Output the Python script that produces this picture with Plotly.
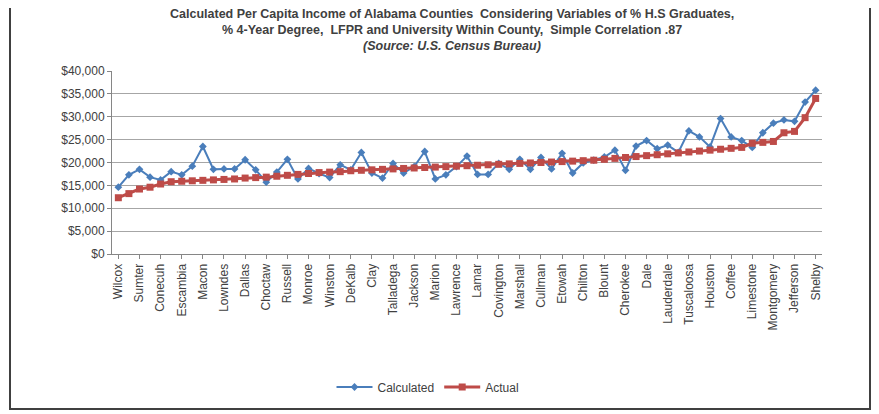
import plotly.graph_objects as go

counties = ["Wilcox", "Perry", "Sumter", "Greene", "Conecuh", "Bullock", "Escambia", "Hale",
            "Macon", "Barbour", "Lowndes", "Butler", "Dallas", "Marengo", "Choctaw", "Clarke",
            "Russell", "Crenshaw", "Monroe", "Pickens", "Winston", "Washington", "DeKalb",
            "Franklin", "Clay", "Geneva", "Talladega", "Bibb", "Jackson", "Randolph", "Marion",
            "Fayette", "Lawrence", "Chambers", "Lamar", "Cleburne", "Covington", "Pike",
            "Marshall", "Coosa", "Cullman", "Walker", "Etowah", "Henry", "Chilton", "Tallapoosa",
            "Blount", "Calhoun", "Cherokee", "Colbert", "Dale", "Lee", "Lauderdale", "Mobile",
            "Tuscaloosa", "Elmore", "Houston", "Morgan", "Coffee", "St. Clair", "Limestone",
            "Autauga", "Montgomery", "Baldwin", "Jefferson", "Madison", "Shelby"]

calculated = [14600, 17300, 18500, 16800, 16200, 18000, 17300, 19200, 23500, 18500,
              18600, 18600, 20600, 18400, 15700, 17900, 20700, 16400, 18700, 17600,
              16700, 19500, 18400, 22200, 17700, 16600, 19800, 17700, 19100, 22400,
              16400, 17300, 19100, 21400, 17400, 17400, 19800, 18500, 20700, 18500,
              21100, 18600, 22000, 17700, 19900, 20500, 21200, 22700, 18300, 23600,
              24800, 23000, 23800, 22200, 26900, 25600, 23400, 29600, 25600, 24800,
              23300, 26500, 28600, 29300, 29000, 33200, 35800]

actual = [12300, 13200, 14200, 14600, 15300, 15800, 15900, 16000, 16100, 16200,
          16300, 16400, 16600, 16700, 16800, 17000, 17200, 17400, 17600, 17800,
          17900, 18000, 18200, 18300, 18400, 18500, 18600, 18700, 18800, 18900,
          19000, 19100, 19200, 19300, 19400, 19500, 19600, 19700, 19800, 19900,
          20000, 20100, 20200, 20300, 20400, 20500, 20700, 20900, 21100, 21300,
          21500, 21700, 21900, 22100, 22300, 22500, 22700, 22900, 23100, 23300,
          24200, 24400, 24600, 26500, 26800, 29800, 34000]

y_ticks = [0, 5000, 10000, 15000, 20000, 25000, 30000, 35000, 40000]
y_tick_labels = ["$0", "$5,000", "$10,000", "$15,000", "$20,000", "$25,000",
                 "$30,000", "$35,000", "$40,000"]

title_lines = [
    "Calculated Per Capita Income of Alabama Counties  Considering Variables of % H.S Graduates,",
    "% 4-Year Degree,  LFPR and University Within County,  Simple Correlation .87",
    "<i>(Source: U.S. Census Bureau)</i>",
]

# page body has an 8px margin; work in screen pixels and convert
OFF = 8
W, H = 879 - OFF, 414 - OFF
# plot area in screen px
X0, X1, Y0, Y1 = 112, 822, 71, 254
L, R, T, B = X0 - OFF, W - (X1 - OFF), Y0 - OFF, H - (Y1 - OFF)
pw, ph = W - L - R, H - T - B


def px_x(x):
    return (x - OFF - L) / pw


def px_y(y):
    return (H - B - (y - OFF)) / ph


FONT = "Liberation Sans, Arial, sans-serif"
TXT = "#404040"

fig = go.Figure()
fig.add_trace(go.Scatter(
    x=counties, y=calculated, name="Calculated", mode="lines+markers",
    line=dict(color="#4A7EBB", width=2),
    marker=dict(symbol="diamond", size=6, color="#4A7EBB"),
))
fig.add_trace(go.Scatter(
    x=counties, y=actual, name="Actual", mode="lines+markers",
    line=dict(color="#BE4B48", width=3),
    marker=dict(symbol="square", size=7, color="#BE4B48"),
))

fig.update_layout(
    width=W, height=H, autosize=False,
    margin=dict(l=L, r=R, t=T, b=B),
    paper_bgcolor="white", plot_bgcolor="white",
    font=dict(family=FONT, size=12, color=TXT),
    showlegend=True,
    legend=dict(orientation="h", x=px_x(428), xanchor="center", y=px_y(387), yanchor="middle",
                font=dict(size=12, color=TXT), itemwidth=36, tracegroupgap=0),
    xaxis=dict(
        type="category", categoryorder="array", categoryarray=counties,
        tickmode="array", tickvals=counties[::2], ticktext=counties[::2],
        tickangle=-90, ticks="outside", ticklen=4, tickcolor="#868686",
        showline=True, linecolor="#868686", linewidth=1, showgrid=False,
        tickfont=dict(size=12, color=TXT), range=[-0.6, len(counties) - 0.4],
    ),
    yaxis=dict(
        range=[0, 40000], tickmode="array", tickvals=y_ticks, ticktext=y_tick_labels,
        showgrid=True, gridcolor="#A6A6A6", gridwidth=1,
        showline=True, linecolor="#868686", ticks="outside", ticklen=4, tickcolor="#868686",
        tickfont=dict(size=12, color=TXT), zeroline=False,
    ),
)

for txt, yy in zip(title_lines, [14, 30, 46]):
    fig.add_annotation(x=px_x(452), y=px_y(yy), xref="paper", yref="paper",
                       text=f"<b>{txt}</b>", showarrow=False,
                       font=dict(size=12.5, color=TXT, family=FONT),
                       xanchor="center", yanchor="middle")

fig.add_shape(type="rect", xref="paper", yref="paper",
              x0=px_x(10), x1=px_x(870), y0=px_y(409), y1=px_y(5),
              line=dict(color="#404040", width=2))

fig.write_html("out.html")
